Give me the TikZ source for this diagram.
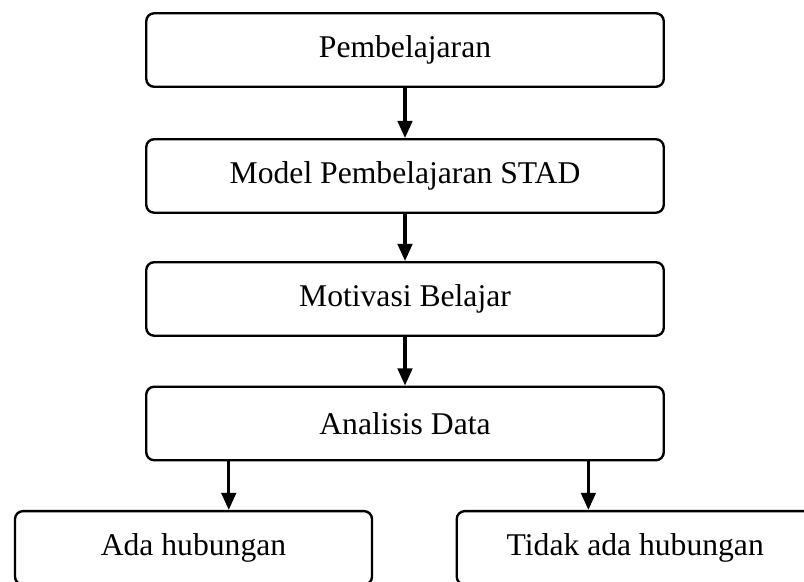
\documentclass[tikz,border=0pt]{standalone}
\usepackage{fontspec}
\setmainfont{Liberation Serif}
\usetikzlibrary{shapes.geometric,arrows.meta}

\begin{document}
\begin{tikzpicture}[node distance=1cm]
      \tikzstyle{arrow} = [line width=1.2pt, -{Triangle[width=5.5pt, length=6.5pt]}]
      \tikzstyle{stage} = [rectangle, rounded corners=3pt, minimum width=6.9cm, minimum height=0.98cm, text centered, draw=black, line width=0.9pt, font=\fontsize{12}{14}\selectfont]
      \tikzstyle{result} = [stage, minimum width=4.76cm]

      \useasboundingbox (0cm, 0cm) rectangle (10.72cm, -7.75cm);

      \path[] node[stage] (S-1) at (5.4cm, -0.667cm) {Pembelajaran};
      \path[] node[stage] (S-2) at (5.4cm, -2.346cm) {Model Pembelajaran STAD};
      \path[] node[stage] (S-3) at (5.4cm, -3.986cm) {Motivasi Belajar};
      \path[] node[stage] (S-4) at (5.4cm, -5.646cm) {Analisis Data};

      \foreach \i/\j in {2/1, 3/2, 4/3}
      {
        \draw [arrow] (S-\j) -- (S-\i);
      }

      % two outcomes
      \path[] node[result] (yes) at (2.58cm, -7.305cm) {Ada hubungan};
      \path[] node[result] (no) at (8.47cm, -7.305cm) {Tidak ada hubungan};
      \coordinate (split-L) at (3.05cm, 0cm);
      \coordinate (split-R) at (7.845cm, 0cm);
      \draw [arrow] (split-L |- S-4.south) -- (split-L |- yes.north);
      \draw [arrow] (split-R |- S-4.south) -- (split-R |- no.north);
\end{tikzpicture}
\end{document}
